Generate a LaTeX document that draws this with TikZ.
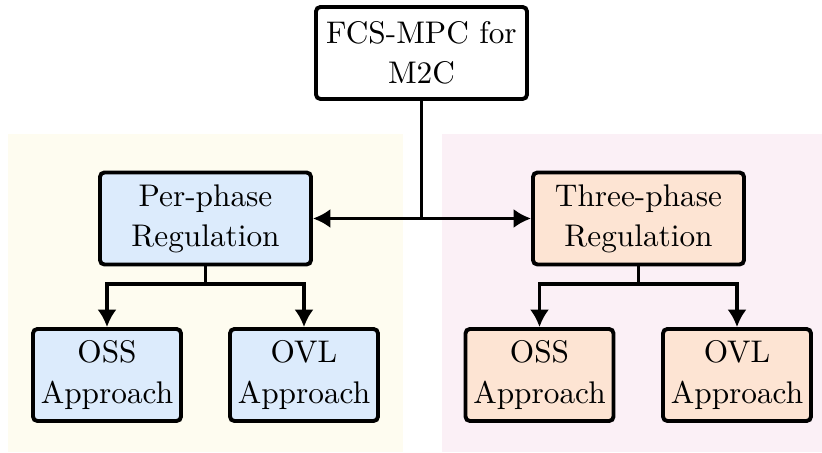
\documentclass[tikz,border=0pt]{standalone}
\usetikzlibrary{arrows.meta}
\definecolor{bgyellow}{HTML}{FEFCF0}
\definecolor{bgpink}{HTML}{FBF0F6}
\definecolor{boxblue}{HTML}{DCEBFC}
\definecolor{boxpeach}{HTML}{FDE4D3}
\newlength\px
\setlength\px{0.3195pt}
\begin{document}
\begin{tikzpicture}[x=0.3195pt,y=-0.3195pt,
  box/.style={draw=black, line width=1.25pt, rounded corners=1.4pt, align=center,
    font=\fontsize{10}{12.8}\selectfont, inner sep=0pt},
  bigbox/.style={box, minimum width={211*\px}, minimum height={92*\px}},
  smallbox/.style={box, minimum width={148*\px}, minimum height={92*\px}},
  arr/.style={line width=1.25pt, -{Latex[length=5.6pt,width=6.2pt]}},
  conn/.style={line width=1.25pt}]
\useasboundingbox (0,0) rectangle (822,453);
% backgrounds
\fill[bgyellow] (8,134) rectangle (403,452);
\fill[bgpink] (442,134) rectangle (822,452);
% nodes
\node[bigbox, fill=white] (top) at (421.5,53) {FCS-MPC for\\M2C};
\node[bigbox, fill=boxblue] (per) at (205.5,218.5) {Per-phase\\Regulation};
\node[bigbox, fill=boxpeach] (three) at (638.5,218.5) {Three-phase\\Regulation};
\node[smallbox, fill=boxblue] (ossl) at (107,375) {OSS\\Approach};
\node[smallbox, fill=boxblue] (ovll) at (304,375) {OVL\\Approach};
\node[smallbox, fill=boxpeach] (ossr) at (539.5,375) {OSS\\Approach};
\node[smallbox, fill=boxpeach] (ovlr) at (737,375) {OVL\\Approach};
% connectors
\coordinate (j) at (top.south |- per.east);
\draw[conn] (top.south) -- (j);
\draw[arr] (j) -- (per.east);
\draw[arr] (j) -- (three.west);
\draw[arr] (per.south) -- ++(0,18) -| (ossl.north);
\draw[arr] (per.south) -- ++(0,18) -| (ovll.north);
\draw[arr] (three.south) -- ++(0,18) -| (ossr.north);
\draw[arr] (three.south) -- ++(0,18) -| (ovlr.north);
\end{tikzpicture}
\end{document}
